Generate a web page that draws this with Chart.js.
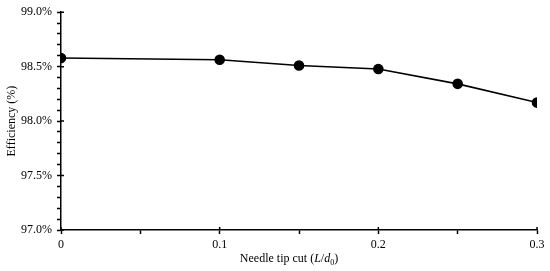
<!DOCTYPE html>
<html>
<head>
<meta charset="utf-8">
<script src="https://cdn.jsdelivr.net/npm/chart.js@4"></script>
<style>
body{margin:0;background:#fff;}
#wrap{width:550px;height:271px;position:relative;}
</style>
</head>
<body>
<div id="wrap"><canvas id="myChart"></canvas></div>
<script>
// needle tip cut (L/d0) and efficiency (%)
var tipCut = [0, 0.1, 0.15, 0.2, 0.25, 0.3];
var efficiency = [98.58, 98.563, 98.51, 98.478, 98.342, 98.17];
var xTicks = [0, 0.1, 0.2, 0.3];
var yTicks = [97.0, 97.5, 98.0, 98.5, 99.0];

var FONT = "'Liberation Serif', 'Times New Roman', serif";

function isMajor(v, step)
{
	return Math.abs(v / step - Math.round(v / step)) < 1e-6;
}

var points = [];
for (var i = 0; i < tipCut.length; i++)
{
	points.push({x: tipCut[i], y: efficiency[i]});
}

// draws axis titles (with italic/subscript) and inner half of major ticks
var extras = {
	id: 'extras',
	afterDraw: function(chart)
	{
		var ctx = chart.ctx;
		var xs = chart.scales.x, ys = chart.scales.y;
		var area = chart.chartArea;
		ctx.save();
		ctx.strokeStyle = '#000';
		ctx.lineWidth = 1.5;
		ctx.beginPath();
		for (var i = 0; i < yTicks.length; i++)
		{
			var py = ys.getPixelForValue(yTicks[i]);
			ctx.moveTo(area.left, py);
			ctx.lineTo(area.left + 3, py);
		}
		for (var j = 0; j < xTicks.length; j++)
		{
			var px = xs.getPixelForValue(xTicks[j]);
			ctx.moveTo(px, area.bottom);
			ctx.lineTo(px, area.bottom - 3);
		}
		ctx.stroke();

		ctx.fillStyle = '#000';
		// y title
		ctx.save();
		ctx.translate(12, (area.top + area.bottom) / 2);
		ctx.rotate(-Math.PI / 2);
		ctx.font = '12px ' + FONT;
		ctx.textAlign = 'center';
		ctx.textBaseline = 'middle';
		ctx.fillText('Efficiency (%)', 0, 0);
		ctx.restore();

		// x title: Needle tip cut (L/d0)
		var parts = [
			{t: 'Needle tip cut (', f: '12px ' + FONT, dy: 0},
			{t: 'L', f: 'italic 12px ' + FONT, dy: 0},
			{t: '/', f: '12px ' + FONT, dy: 0},
			{t: 'd', f: 'italic 12px ' + FONT, dy: 0},
			{t: '0', f: '8px ' + FONT, dy: 3},
			{t: ')', f: '12px ' + FONT, dy: 0}
		];
		var total = 0;
		for (var k = 0; k < parts.length; k++)
		{
			ctx.font = parts[k].f;
			parts[k].w = ctx.measureText(parts[k].t).width;
			total += parts[k].w;
		}
		var cx = 289 - total / 2;
		ctx.textBaseline = 'alphabetic';
		ctx.textAlign = 'left';
		for (k = 0; k < parts.length; k++)
		{
			ctx.font = parts[k].f;
			ctx.fillText(parts[k].t, cx, 262 + parts[k].dy);
			cx += parts[k].w;
		}
		ctx.restore();
	}
};

var myChart = document.getElementById('myChart').getContext('2d');
var lineChart = new Chart(myChart, {
	type: 'scatter',
	data: {
		datasets: [{
			data: points,
			showLine: true,
			borderColor: '#000',
			backgroundColor: '#000',
			borderWidth: 1.6,
			pointRadius: 4.5,
			pointHoverRadius: 4.5,
			tension: 0
		}]
	},
	options: {
		responsive: true,
		maintainAspectRatio: false,
		animation: false,
		layout: {padding: {top: 9, right: 13, left: 0, bottom: 0}},
		plugins: {legend: {display: false}, tooltip: {enabled: false}},
		scales: {
			x: {
				type: 'linear',
				min: 0,
				max: 0.3,
				afterFit: function(s) { s.height = 41; },
				border: {color: '#000', width: 1.5},
				grid: {
					drawOnChartArea: false,
					tickLength: 4,
					tickColor: '#000',
					tickWidth: 1.5
				},
				ticks: {
					stepSize: 0.05,
					autoSkip: false,
					maxRotation: 0,
					padding: 4,
					color: '#000',
					font: {family: FONT, size: 12},
					callback: function(v) { return isMajor(v, 0.1) ? String(Math.round(v * 10) / 10) : ''; }
				}
			},
			y: {
				min: 97,
				max: 99,
				afterFit: function(s) { s.width = 61; },
				border: {color: '#000', width: 1.5},
				grid: {
					drawOnChartArea: false,
					tickLength: 4,
					tickColor: '#000',
					tickWidth: 1.5
				},
				ticks: {
					stepSize: 0.1,
					autoSkip: false,
					padding: 5,
					color: '#000',
					font: {family: FONT, size: 12},
					callback: function(v) { return isMajor(v, 0.5) ? v.toFixed(1) + '%' : ''; }
				}
			}
		}
	},
	plugins: [extras]
});
</script>
</body>
</html>
